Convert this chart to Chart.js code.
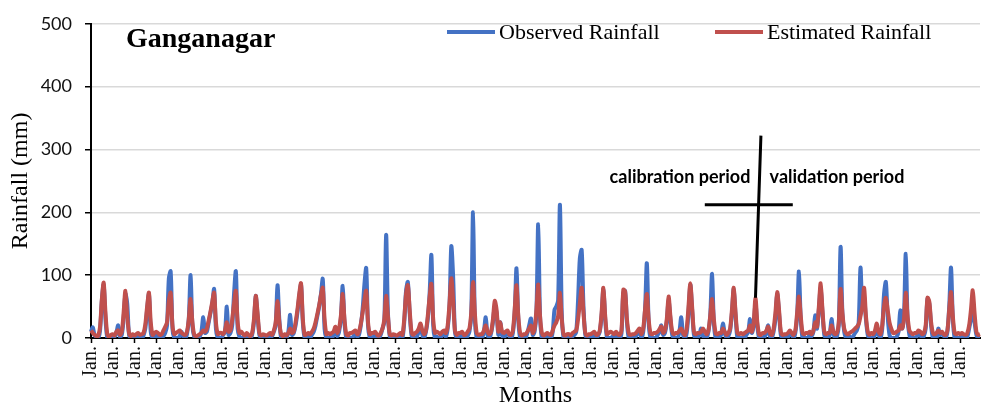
<!DOCTYPE html>
<html>
<head>
<meta charset="utf-8">
<title>Ganganagar rainfall</title>
<script src="https://cdn.jsdelivr.net/npm/chart.js@4.4.1/dist/chart.umd.min.js"></script>
<style>
  html, body { margin: 0; padding: 0; background: #fff; }
  #wrap { width: 982px; height: 408px; }
</style>
</head>
<body>
<div id="wrap"><canvas id="rain" width="982" height="408"></canvas></div>
<script>
// Monthly rainfall (mm), one row per year, Jan..Dec
const observed = [
  10, 17, 4, 2, 0, 12, 60, 85, 30, 0, 0, 3,
  0, 2, 8, 20, 2, 5, 30, 70, 55, 5, 0, 2,
  0, 0, 3, 5, 0, 4, 15, 45, 70, 10, 0, 0,
  5, 2, 0, 0, 3, 8, 20, 95, 106, 15, 0, 0,
  0, 3, 10, 2, 0, 6, 30, 100, 20, 2, 0, 0,
  2, 10, 33, 8, 10, 25, 40, 55, 78, 15, 0, 0,
  0, 5, 10, 50, 5, 8, 20, 70, 106, 15, 2, 0,
  0, 0, 4, 2, 0, 5, 25, 67, 35, 5, 0, 0,
  0, 2, 0, 5, 3, 10, 20, 84, 30, 0, 0, 0,
  0, 10, 37, 5, 8, 20, 40, 65, 85, 25, 0, 0,
  2, 0, 5, 10, 20, 35, 50, 70, 94, 15, 0, 0,
  0, 0, 5, 15, 3, 10, 30, 83, 25, 0, 0, 0,
  0, 3, 8, 2, 5, 20, 45, 85, 111, 20, 0, 0,
  2, 5, 0, 0, 5, 15, 25, 164, 40, 3, 0, 0,
  0, 0, 2, 5, 0, 25, 75, 89, 40, 5, 0, 0,
  2, 10, 20, 5, 0, 10, 30, 70, 132, 20, 0, 2,
  0, 0, 5, 8, 2, 15, 50, 146, 98, 10, 0, 0,
  2, 5, 0, 0, 3, 10, 35, 200, 30, 0, 0, 0,
  0, 10, 33, 5, 0, 8, 25, 50, 40, 5, 25, 5,
  0, 5, 10, 3, 0, 8, 40, 111, 30, 0, 0, 0,
  0, 8, 20, 31, 5, 10, 40, 181, 35, 0, 0, 2,
  2, 5, 0, 10, 45, 50, 60, 212, 40, 0, 0, 0,
  0, 0, 3, 5, 10, 60, 127, 140, 50, 5, 0, 0,
  0, 2, 5, 0, 3, 10, 35, 78, 30, 0, 0, 0,
  2, 0, 5, 3, 0, 8, 72, 75, 25, 0, 0, 0,
  0, 3, 8, 12, 0, 10, 45, 119, 25, 0, 0, 0,
  0, 5, 10, 20, 5, 8, 25, 60, 30, 5, 0, 0,
  0, 10, 33, 5, 0, 8, 40, 85, 45, 5, 0, 0,
  5, 15, 3, 2, 0, 10, 35, 102, 25, 0, 0, 2,
  5, 23, 8, 0, 3, 12, 40, 78, 35, 0, 0, 0,
  0, 0, 5, 10, 30, 8, 20, 55, 20, 0, 0, 0,
  2, 8, 20, 3, 0, 10, 30, 70, 40, 5, 0, 0,
  0, 2, 10, 5, 0, 8, 35, 106, 30, 0, 0, 0,
  0, 5, 3, 10, 36, 15, 45, 80, 40, 5, 0, 0,
  5, 30, 8, 0, 3, 20, 145, 40, 10, 0, 0, 2,
  0, 3, 8, 12, 25, 112, 50, 65, 30, 5, 0, 0,
  0, 5, 15, 5, 0, 15, 70, 89, 35, 5, 0, 0,
  0, 2, 10, 44, 15, 35, 134, 30, 5, 0, 0, 0,
  2, 8, 5, 0, 3, 15, 62, 55, 20, 0, 0, 0,
  15, 5, 8, 3, 0, 10, 50, 112, 30, 0, 0, 0,
  0, 5, 3, 0, 2, 15, 30, 45, 25, 5, 0, 0
];

const estimated = [
  12, 8, 5, 3, 4, 18, 62, 88, 40, 6, 2, 5,
  6, 4, 10, 12, 5, 10, 40, 75, 35, 8, 3, 6,
  4, 6, 8, 5, 6, 8, 22, 50, 72, 25, 5, 8,
  10, 8, 5, 6, 12, 18, 25, 60, 72, 20, 6, 8,
  10, 12, 8, 6, 5, 10, 30, 62, 25, 5, 3, 4,
  6, 8, 12, 10, 15, 28, 42, 58, 72, 25, 6, 8,
  8, 6, 12, 25, 10, 12, 30, 55, 75, 25, 8, 10,
  6, 4, 8, 5, 3, 8, 30, 67, 40, 8, 4, 6,
  5, 4, 6, 8, 5, 12, 25, 59, 25, 6, 3, 6,
  4, 8, 15, 8, 10, 25, 45, 70, 87, 30, 5, 6,
  8, 6, 10, 15, 25, 38, 52, 68, 80, 30, 6, 8,
  6, 8, 10, 18, 8, 15, 35, 70, 30, 6, 4, 8,
  8, 10, 12, 6, 10, 22, 40, 60, 75, 25, 6, 8,
  8, 10, 5, 4, 8, 15, 30, 67, 35, 6, 4, 6,
  5, 4, 6, 8, 5, 30, 70, 84, 45, 10, 5, 8,
  10, 15, 23, 12, 6, 12, 35, 65, 86, 30, 8, 10,
  8, 6, 10, 12, 8, 20, 55, 95, 60, 12, 5, 8,
  8, 10, 5, 6, 10, 15, 40, 89, 40, 8, 5, 6,
  6, 12, 20, 10, 6, 10, 30, 59, 45, 10, 25, 10,
  8, 10, 12, 6, 5, 12, 45, 84, 35, 8, 4, 6,
  6, 10, 15, 20, 8, 15, 45, 85, 35, 8, 4, 6,
  8, 6, 5, 12, 20, 25, 35, 72, 30, 6, 4, 6,
  6, 4, 8, 10, 12, 30, 55, 80, 40, 8, 4, 6,
  6, 8, 10, 5, 6, 12, 40, 80, 35, 6, 8, 10,
  8, 6, 10, 6, 5, 12, 77, 74, 30, 8, 5, 6,
  6, 8, 12, 15, 6, 15, 45, 70, 30, 8, 6, 8,
  8, 10, 14, 18, 8, 12, 30, 66, 35, 10, 6, 8,
  8, 12, 15, 8, 5, 15, 50, 87, 50, 10, 6, 8,
  8, 10, 15, 10, 6, 12, 35, 62, 30, 8, 6, 8,
  8, 15, 10, 5, 8, 15, 45, 80, 40, 8, 6, 8,
  6, 8, 10, 12, 20, 10, 25, 64, 25, 6, 5, 8,
  8, 12, 18, 8, 5, 15, 40, 73, 45, 10, 5, 6,
  6, 8, 12, 8, 5, 12, 40, 66, 35, 8, 6, 8,
  8, 10, 6, 12, 25, 18, 50, 87, 45, 10, 6, 8,
  8, 20, 10, 6, 8, 25, 78, 40, 15, 8, 6, 8,
  10, 12, 15, 18, 22, 35, 50, 80, 35, 10, 5, 8,
  6, 12, 23, 10, 6, 20, 50, 64, 45, 25, 15, 8,
  8, 10, 12, 20, 15, 30, 72, 35, 12, 8, 6, 8,
  8, 12, 10, 6, 8, 20, 64, 58, 25, 8, 6, 8,
  12, 8, 10, 6, 5, 12, 45, 73, 35, 8, 6, 8,
  6, 8, 6, 5, 8, 20, 45, 76, 40, 10, 5, 6
];

// x tick labels: only January is named
const monthLabels = observed.map((_, i) => (i % 12 === 0 ? 'Jan.' : ''));

const yTicks = [0, 100, 200, 300, 400, 500];

// calibration / validation split (month index where the divider meets the curve)
const splitMonth = 367;
const dividerTop = { index: 370, value: 322 };
const splitBar = { from: 339, to: 387.6, value: 212 };
const periodText = { value: 247, calibrationEnd: 364.2, validationStart: 374.8 };

const serif = '"Liberation Serif", "Times New Roman", serif';
const sans = 'Lato, "Open Sans", sans-serif';

const overlay = {
  id: 'overlay',
  afterDraw(chart) {
    const { ctx, scales: { x, y } } = chart;
    ctx.save();

    // station name
    ctx.fillStyle = '#000';
    ctx.font = 'bold 28px ' + serif;
    ctx.textBaseline = 'alphabetic';
    ctx.textAlign = 'left';
    ctx.fillText('Ganganagar', 126, 47);

    // legend
    const legendX = [447, 715];
    ctx.font = '22px ' + serif;
    chart.data.datasets.forEach((ds, i) => {
      ctx.strokeStyle = ds.borderColor;
      ctx.lineWidth = 4;
      ctx.beginPath();
      ctx.moveTo(legendX[i], 32);
      ctx.lineTo(legendX[i] + 48, 32);
      ctx.stroke();
      ctx.fillStyle = '#000';
      ctx.fillText(ds.label, legendX[i] + 52, 39);
    });

    // period divider
    ctx.strokeStyle = '#000';
    ctx.lineWidth = 3;
    ctx.beginPath();
    ctx.moveTo(x.getPixelForValue(dividerTop.index), y.getPixelForValue(dividerTop.value));
    ctx.lineTo(x.getPixelForValue(splitMonth), y.getPixelForValue(estimated[splitMonth]));
    ctx.moveTo(x.getPixelForValue(splitBar.from), y.getPixelForValue(splitBar.value));
    ctx.lineTo(x.getPixelForValue(splitBar.to), y.getPixelForValue(splitBar.value));
    ctx.stroke();

    ctx.font = 'bold 18px ' + sans;
    ctx.fillStyle = '#000';
    const ty = y.getPixelForValue(periodText.value);
    ctx.textAlign = 'right';
    ctx.fillText('calibration period', x.getPixelForValue(periodText.calibrationEnd), ty);
    ctx.textAlign = 'left';
    ctx.fillText('validation period', x.getPixelForValue(periodText.validationStart), ty);

    ctx.restore();
  }
};

new Chart(document.getElementById('rain'), {
  type: 'line',
  data: {
    labels: monthLabels,
    datasets: [
      { label: 'Observed Rainfall', data: observed, borderColor: '#4472c4', borderWidth: 4,
        borderJoinStyle: 'round', pointRadius: 0, tension: 0.3, fill: false, order: 2 },
      { label: 'Estimated Rainfall', data: estimated, borderColor: '#c0504d', borderWidth: 4,
        borderJoinStyle: 'round', pointRadius: 0, tension: 0.3, fill: false, order: 1 }
    ]
  },
  options: {
    responsive: false,
    animation: false,
    layout: { padding: { top: 18, right: 2, bottom: 0, left: 0 } },
    plugins: { legend: { display: false }, tooltip: { enabled: false } },
    scales: {
      x: {
        type: 'category',
        offset: false,
        afterFit: (s) => { s.height = 70; s.paddingLeft = 0; s.paddingRight = 0; },
        grid: {
          drawOnChartArea: false,
          tickLength: 5,
          tickWidth: 1.5,
          tickColor: (c) => (c.index % 12 === 0 ? '#000' : 'rgba(0,0,0,0)')
        },
        border: { color: '#000', width: 2 },
        ticks: {
          autoSkip: false,
          minRotation: 90,
          maxRotation: 90,
          padding: 3,
          color: '#111',
          font: { family: serif, size: 20 }
        },
        title: {
          display: true,
          text: 'Months',
          color: '#000',
          font: { family: serif, size: 24, lineHeight: 1 },
          padding: { top: 0, bottom: 0 }
        }
      },
      y: {
        min: 0,
        max: 500,
        afterFit: (s) => { s.width = 91; },
        afterBuildTicks: (s) => { s.ticks = yTicks.map(v => ({ value: v })); },
        grid: { color: '#d9d9d9', lineWidth: 1.5, tickColor: '#000', tickLength: 6, tickWidth: 1.5 },
        border: { color: '#000', width: 2 },
        ticks: { padding: 13, color: '#111', font: { family: sans, size: 18 } },
        title: {
          display: true,
          text: 'Rainfall (mm)',
          color: '#000',
          font: { family: serif, size: 24, lineHeight: 1 },
          padding: { top: 9, bottom: 0 }
        }
      }
    }
  },
  plugins: [overlay]
});
</script>
</body>
</html>
